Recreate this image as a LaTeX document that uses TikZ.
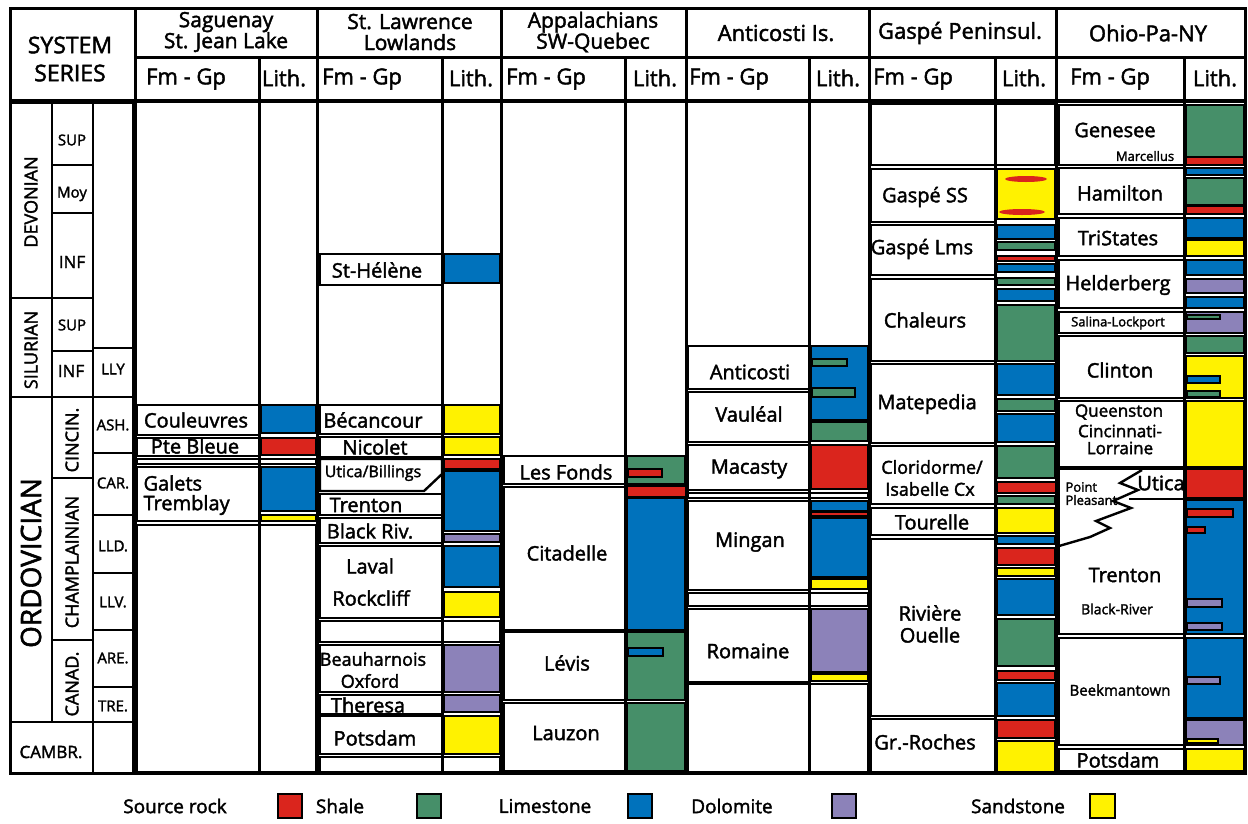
\documentclass[tikz,border=0pt]{standalone}
\usepackage{fontspec}
\setmainfont{Open Sans}[FakeBold=2]
\definecolor{srcred}{RGB}{218,37,29}
\definecolor{shgreen}{RGB}{70,143,105}
\definecolor{lmblue}{RGB}{0,114,188}
\definecolor{dlpurple}{RGB}{140,130,185}
\definecolor{ssyellow}{RGB}{255,242,0}

\begin{document}
\begin{tikzpicture}[x=1pt,y=-1pt,
  frame/.style={line width=3pt},
  sysbox/.style={draw,line width=2.4pt},
  box/.style={draw,line width=2.4pt,fill=white},
  lith/.style={draw,line width=1.4pt},
  srock/.style={lith,fill=srcred},
  shl/.style={lith,fill=shgreen},
  lms/.style={lith,fill=lmblue},
  dol/.style={lith,fill=dlpurple},
  sst/.style={lith,fill=ssyellow},
  hd/.style={font=\fontsize{22}{22}\selectfont},
  fmname/.style={font=\fontsize{20}{22}\selectfont},
  fmsmall/.style={font=\fontsize{16}{18}\selectfont},
  fmtiny/.style={font=\fontsize{13}{14}\selectfont},
  ser/.style={font=\fontsize{15}{16}\selectfont},
  period/.style={rotate=90,font=\fontsize{18}{18}\selectfont},
  epoch/.style={rotate=90,font=\fontsize{18}{18}\selectfont},
  legend/.style={font=\fontsize{19}{20}\selectfont}]
\useasboundingbox (0,0) rectangle (1248,823);

% time scale
\draw[sysbox] (10,103) rectangle (52,298);
\draw[sysbox] (10,298) rectangle (52,397);
\draw[sysbox] (10,397) rectangle (52,722);
\draw[sysbox] (10,722) rectangle (93,773);
\draw[sysbox] (52,103) rectangle (93,165);
\draw[sysbox] (52,165) rectangle (93,213);
\draw[sysbox] (52,213) rectangle (93,298);
\draw[sysbox] (52,298) rectangle (93,351);
\draw[sysbox] (52,351) rectangle (93,397);
\draw[sysbox] (52,397) rectangle (93,478);
\draw[sysbox] (52,478) rectangle (93,640);
\draw[sysbox] (52,640) rectangle (93,722);
\draw[sysbox] (93,103) rectangle (133,348);
\draw[sysbox] (93,348) rectangle (133,397);
\draw[sysbox] (93,397) rectangle (133,453);
\draw[sysbox] (93,453) rectangle (133,515);
\draw[sysbox] (93,515) rectangle (133,573);
\draw[sysbox] (93,573) rectangle (133,630);
\draw[sysbox] (93,630) rectangle (133,687);
\draw[sysbox] (93,687) rectangle (133,722);
\draw[sysbox] (93,722) rectangle (133,773);

\node[period] (devonian) at (31,202) {DEVONIAN};
\node[period] (silurian) at (31,350) {SILURIAN};
\node[rotate=90,font=\fontsize{28}{28}\selectfont] (ordovician) at (31,563) {ORDOVICIAN};
\node[font=\fontsize{17}{18}\selectfont] (cambr) at (51,752) {CAMBR.};
\node[ser] (devsup) at (72,140) {SUP};
\node[ser] (devmoy) at (72,194) {Moy};
\node[ser,font=\fontsize{17}{18}\selectfont] (devinf) at (72,262) {INF};
\node[ser] (silsup) at (72,325) {SUP};
\node[ser,font=\fontsize{17}{18}\selectfont] (silinf) at (71,371) {INF};
\node[epoch] (cincin) at (72,440) {CINCIN.};
\node[epoch] (champl) at (72,562) {CHAMPLAINIAN};
\node[epoch] (canad) at (72,684) {CANAD.};
\node[ser] (lly) at (113,369) {LLY};
\node[ser] (ash) at (113,425) {ASH.};
\node[ser] (car) at (113,483) {CAR.};
\node[ser] (lld) at (113,546) {LLD.};
\node[ser] (llv) at (113,602) {LLV.};
\node[ser] (are) at (113,658) {ARE.};
\node[ser] (tre) at (113,706) {TRE.};

% Saguenay
\draw[box] (137,405) rectangle (259,435);
\draw[box] (137,438) rectangle (259,456);
\draw[box] (137,459) rectangle (259,464);
\draw[box] (137,467) rectangle (259,521);
\draw[box] (137,525) rectangle (259,772);
\draw[lms] (261,405) rectangle (316,433);
\draw[srock] (261,438) rectangle (316,455);
\draw[box] (259,459) rectangle (316,464);
\draw[lms] (261,467) rectangle (316,511);
\draw[sst] (261,515) rectangle (316,521);
\draw[box] (259,525) rectangle (316,772);
\node[fmname] (couleuvres) at (196,420) {Couleuvres};
\node[fmname] (ptebleue) at (195,446) {Pte Bleue};
\node[fmname,anchor=west] (galets) at (140,483) {Galets};
\node[fmname,anchor=west] (tremblay) at (140,505) {Tremblay};

% St. Lawrence
\draw[box] (320,254) rectangle (442,285);
\draw[box] (320,405) rectangle (442,434);
\draw[box] (320,437) rectangle (442,457);
\draw[box] (320,459) -- (442,459) -- (442,474) -- (424,491) -- (320,491) -- cycle;
\draw[box] (320,494) rectangle (442,515);
\draw[box] (320,518) rectangle (442,543);
\draw[box] (320,546) rectangle (442,618);
\draw[box] (320,621) rectangle (442,642);
\draw[box] (320,645) rectangle (442,692);
\draw[box] (320,695) rectangle (442,714);
\draw[box] (320,716) rectangle (442,754);
\draw[box] (320,757) rectangle (442,772);
\draw[lms] (444,254) rectangle (500,283);
\draw[sst] (444,405) rectangle (500,434);
\draw[sst] (444,437) rectangle (500,455);
\draw[srock] (444,459) rectangle (500,469);
\draw[lms] (444,471) rectangle (500,531);
\draw[dol] (444,534) rectangle (500,542);
\draw[lms] (444,546) rectangle (500,587);
\draw[sst] (444,592) rectangle (500,617);
\draw[box] (442,621) rectangle (500,642);
\draw[dol] (444,645) rectangle (500,692);
\draw[dol] (444,695) rectangle (500,712);
\draw[sst] (444,716) rectangle (500,754);
\draw[box] (442,757) rectangle (500,772);
\node[fmname] (sthelene) at (377,270) {St-Hélène};
\node[fmname] (becancour) at (373,420) {Bécancour};
\node[fmname] (nicolet) at (375,447) {Nicolet};
\node[fmsmall] (uticabill) at (373,473) {Utica/Billings};
\node[fmname] (trentonsl) at (366,505) {Trenton};
\node[fmname] (blackriv) at (370,531) {Black Riv.};
\node[fmname] (laval) at (370,566) {Laval};
\node[fmname] (rockcliff) at (371,598) {Rockcliff};
\node[fmsmall,font=\fontsize{18}{20}\selectfont] (beauharnois) at (373,659) {Beauharnois};
\node[fmsmall,font=\fontsize{18}{20}\selectfont] (oxford) at (370,681) {Oxford};
\node[fmname] (theresa) at (368,705) {Theresa};
\node[fmname] (potsdamsl) at (375,738) {Potsdam};

% Appalachians
\draw[box] (504,456) rectangle (625,484);
\draw[box] (504,487) rectangle (625,630);
\draw[box] (504,632) rectangle (625,700);
\draw[box] (504,703) rectangle (625,771);
\draw[shl] (627,456) rectangle (685,484);
\draw[srock] (628,469) rectangle (662,477);
\draw[srock] (627,486) rectangle (688,497);
\draw[lms] (627,498) rectangle (685,630);
\draw[shl] (627,632) rectangle (685,700);
\draw[lms] (628,648) rectangle (663,656);
\draw[shl] (627,703) rectangle (685,771);
\node[fmname] (lesfonds) at (566,472) {Les Fonds};
\node[fmname] (citadelle) at (567,553) {Citadelle};
\node[fmname] (levis) at (567,663) {Lévis};
\node[fmname] (lauzon) at (566,733) {Lauzon};

% Anticosti
\draw[box] (688,346) rectangle (809,389);
\draw[box] (688,392) rectangle (809,442);
\draw[box] (688,445) rectangle (809,490);
\draw[box] (688,493) rectangle (809,498);
\draw[box] (688,501) rectangle (809,590);
\draw[box] (688,593) rectangle (809,606);
\draw[box] (688,609) rectangle (809,682);
\draw[box] (688,684) rectangle (809,772);
\draw[lms] (811,346) rectangle (868,420);
\draw[shl] (812,359) rectangle (847,366);
\draw[shl] (812,388) rectangle (855,397);
\draw[shl] (811,422) rectangle (868,441);
\draw[srock] (811,445) rectangle (868,489);
\draw[box] (809,493) rectangle (868,498);
\draw[lms] (811,501) rectangle (868,511);
\draw[srock] (811,512) rectangle (868,516);
\draw[lms] (811,518) rectangle (868,577);
\draw[sst] (811,579) rectangle (868,589);
\draw[box] (809,593) rectangle (868,606);
\draw[dol] (811,609) rectangle (868,672);
\draw[sst] (811,674) rectangle (868,681);
\draw[box] (809,684) rectangle (868,772);
\node[fmname] (anticosti) at (750,372) {Anticosti};
\node[fmname] (vauleal) at (749,414) {Vauléal};
\node[fmname] (macasty) at (749,469) {Macasty};
\node[fmname] (mingan) at (750,542) {Mingan};
\node[fmname] (romaine) at (748,651) {Romaine};

% Gaspe
\draw[box] (871,104) rectangle (995,165);
\draw[box] (871,169) rectangle (995,222);
\draw[box] (871,225) rectangle (995,275);
\draw[box] (871,279) rectangle (995,361);
\draw[box] (871,364) rectangle (995,443);
\draw[box] (871,446) rectangle (995,504);
\draw[box] (871,508) rectangle (995,535);
\draw[box] (871,539) rectangle (995,716);
\draw[box] (871,719) rectangle (995,772);
\draw[box] (995,104) rectangle (1055,165);
\draw[sst] (997,169) rectangle (1055,219);
\fill[srcred] (1026,179) ellipse [x radius=21pt,y radius=3pt];
\fill[srcred] (1022,212) ellipse [x radius=23pt,y radius=3pt];
\draw[lms] (997,225) rectangle (1055,239);
\draw[shl] (997,242) rectangle (1055,250);
\draw[srock] (997,256) rectangle (1055,261);
\draw[lms] (997,264) rectangle (1055,272);
\draw[shl] (997,278) rectangle (1055,285);
\draw[lms] (997,289) rectangle (1055,301);
\draw[shl] (997,305) rectangle (1055,361);
\draw[lms] (997,364) rectangle (1055,395);
\draw[shl] (997,399) rectangle (1055,411);
\draw[lms] (997,414) rectangle (1055,442);
\draw[shl] (997,446) rectangle (1055,478);
\draw[srock] (997,482) rectangle (1058,493);
\draw[shl] (997,496) rectangle (1055,504);
\draw[sst] (997,508) rectangle (1055,533);
\draw[lms] (997,536) rectangle (1055,544);
\draw[srock] (997,548) rectangle (1055,565);
\draw[sst] (997,568) rectangle (1055,576);
\draw[lms] (997,579) rectangle (1055,615);
\draw[shl] (997,619) rectangle (1055,666);
\draw[srock] (997,671) rectangle (1055,680);
\draw[lms] (997,683) rectangle (1055,716);
\draw[srock] (997,720) rectangle (1055,738);
\draw[sst] (997,741) rectangle (1055,772);
\node[fmname] (gaspess) at (925,197) {Gaspé SS};
\node[fmname] (gaspelms) at (922,249) {Gaspé Lms};
\node[fmname] (chaleurs) at (925,320) {Chaleurs};
\node[fmname] (matepedia) at (927,404) {Matepedia};
\node[fmsmall,font=\fontsize{18}{20}\selectfont] (cloridorme) at (932,467) {Cloridorme/};
\node[fmsmall,font=\fontsize{18}{20}\selectfont] (isabelle) at (930,489) {Isabelle Cx};
\node[fmname] (tourelle) at (932,522) {Tourelle};
\node[fmname] (riviere) at (930,613) {Rivière};
\node[fmname] (ouelle) at (930,635) {Ouelle};
\node[fmname] (grroches) at (925,742) {Gr.-Roches};

% Ohio-Pa-NY
\draw[box] (1059,105) rectangle (1184,165);
\draw[box] (1059,168) rectangle (1184,214);
\draw[box] (1059,218) rectangle (1184,256);
\draw[box] (1059,260) rectangle (1184,308);
\draw[box] (1059,312) rectangle (1184,333);
\draw[box] (1059,336) rectangle (1184,398);
\draw[box] (1059,401) rectangle (1184,467);
\draw[box] (1059,469) rectangle (1184,634);
\draw[box] (1059,638) rectangle (1184,745);
\draw[box] (1059,749) rectangle (1184,771);
\draw[line width=2.4pt] (1142,470) -- (1120,483) -- (1138,490) -- (1113,501) -- (1131,508)
  -- (1096,521) -- (1110,528) -- (1090,537) -- (1059,546);
\draw[line width=2.4pt] (1129,499) -- (1184,499);
\draw[shl] (1186,105) rectangle (1244,157);
\draw[srock] (1186,157) rectangle (1244,165);
\draw[lms] (1186,168) rectangle (1244,175);
\draw[shl] (1186,178) rectangle (1244,205);
\draw[srock] (1186,206) rectangle (1244,214);
\draw[lms] (1186,218) rectangle (1244,238);
\draw[sst] (1186,240) rectangle (1244,256);
\draw[lms] (1186,260) rectangle (1244,275);
\draw[dol] (1186,279) rectangle (1244,293);
\draw[lms] (1186,297) rectangle (1244,308);
\draw[dol] (1186,312) rectangle (1244,333);
\draw[shl] (1187,315) rectangle (1220,319);
\draw[shl] (1186,336) rectangle (1244,353);
\draw[sst] (1186,356) rectangle (1244,398);
\draw[lms] (1187,376) rectangle (1220,383);
\draw[shl] (1187,391) rectangle (1220,397);
\draw[sst] (1186,401) rectangle (1244,467);
\draw[srock] (1186,469) rectangle (1244,498);
\draw[lms] (1186,500) rectangle (1244,634);
\draw[srock] (1187,509) rectangle (1233,517);
\draw[srock] (1187,527) rectangle (1205,533);
\draw[dol] (1187,599) rectangle (1222,607);
\draw[dol] (1187,623) rectangle (1222,630);
\draw[lms] (1186,638) rectangle (1244,718);
\draw[dol] (1187,677) rectangle (1220,684);
\draw[dol] (1186,720) rectangle (1244,745);
\draw[sst] (1187,739) rectangle (1218,743);
\draw[sst] (1186,749) rectangle (1244,771);
\node[fmname] (genesee) at (1115,130) {Genesee};
\node[fmtiny] (marcellus) at (1145,156) {Marcellus};
\node[fmname] (hamilton) at (1120,193) {Hamilton};
\node[fmname] (tristates) at (1118,238) {TriStates};
\node[fmname] (helderberg) at (1118,285) {Helderberg};
\node[fmtiny] (salina) at (1118,323) {Salina-Lockport};
\node[fmname] (clinton) at (1120,370) {Clinton};
\node[fmsmall,font=\fontsize{17}{19}\selectfont] (queenston) at (1119,412) {Queenston};
\node[fmsmall,font=\fontsize{17}{19}\selectfont] (cincinnati) at (1120,431) {Cincinnati-};
\node[fmsmall,font=\fontsize{17}{19}\selectfont] (lorraine) at (1120,448) {Lorraine};
\node[fmname] (uticaoh) at (1161,483) {Utica};
\node[fmtiny,anchor=west] (point) at (1062,487) {Point};
\node[fmtiny,anchor=west] (pleasant) at (1062,500) {Pleasant};
\node[fmname] (trentonoh) at (1125,575) {Trenton};
\node[fmtiny,font=\fontsize{14}{16}\selectfont] (blackriver) at (1117,609) {Black-River};
\node[fmtiny,font=\fontsize{15}{16}\selectfont] (beekmantown) at (1120,690) {Beekmantown};
\node[fmname] (potsdamoh) at (1118,760) {Potsdam};

% frame and headings
\draw[frame] (10,8) rectangle (1245,773);
\draw[line width=4pt] (10,101) -- (1245,101);
\draw[frame] (135,57) -- (1245,57);
\draw[frame] (135,8) -- (135,773);
\draw[frame] (317,8) -- (317,773);
\draw[frame] (501,8) -- (501,773);
\draw[frame] (686,8) -- (686,773);
\draw[frame] (869,8) -- (869,773);
\draw[frame] (1056,8) -- (1056,773);
\draw[frame] (259,57) -- (259,773);
\draw[frame] (442,57) -- (442,773);
\draw[frame] (625,57) -- (625,773);
\draw[frame] (809,57) -- (809,773);
\draw[frame] (995,57) -- (995,773);
\draw[frame] (1184,57) -- (1184,773);

\node[hd,font=\fontsize{23}{23}\selectfont] (system) at (70,45) {SYSTEM};
\node[hd,font=\fontsize{23}{23}\selectfont] (series) at (70,73) {SERIES};
\node[hd,align=center,font=\fontsize{21}{21}\selectfont] (saguenay) at (226,32) {Saguenay\\St. Jean Lake};
\node[hd,align=center,font=\fontsize{21}{21}\selectfont] (stlawrence) at (410,32) {St. Lawrence\\Lowlands};
\node[hd,align=center,font=\fontsize{21}{21}\selectfont] (appal) at (593,32) {Appalachians\\SW-Quebec};
\node[hd] (anticostiis) at (776,33) {Anticosti Is.};
\node[hd] (gaspepen) at (960,33) {Gaspé Peninsul.};
\node[hd] (ohio) at (1148,33) {Ohio-Pa-NY};
\node[hd] (fmsag) at (186,79) {Fm - Gp};
\node[hd] (lithsag) at (284,78) {Lith.};
\node[hd] (fmsl) at (362,79) {Fm - Gp};
\node[hd] (lithsl) at (471,78) {Lith.};
\node[hd] (fmapp) at (546,79) {Fm - Gp};
\node[hd] (lithapp) at (655,78) {Lith.};
\node[hd] (fmant) at (729,79) {Fm - Gp};
\node[hd] (lithant) at (838,78) {Lith.};
\node[hd] (fmgas) at (913,79) {Fm - Gp};
\node[hd] (lithgas) at (1024,78) {Lith.};
\node[hd] (fmohio) at (1110,79) {Fm - Gp};
\node[hd] (lithohio) at (1215,78) {Lith.};

% legend
\node[legend] (srclabel) at (175,806) {Source rock};
\draw[srock] (278,794) rectangle (302,818);
\node[legend] (shlabel) at (340,806) {Shale};
\draw[shl] (417,794) rectangle (441,818);
\node[legend] (lmlabel) at (545,806) {Limestone};
\draw[lms] (628,794) rectangle (652,818);
\node[legend] (dllabel) at (732,806) {Dolomite};
\draw[dol] (832,794) rectangle (856,818);
\node[legend] (sslabel) at (1018,806) {Sandstone};
\draw[sst] (1090,794) rectangle (1115,818);
\end{tikzpicture}
\end{document}
